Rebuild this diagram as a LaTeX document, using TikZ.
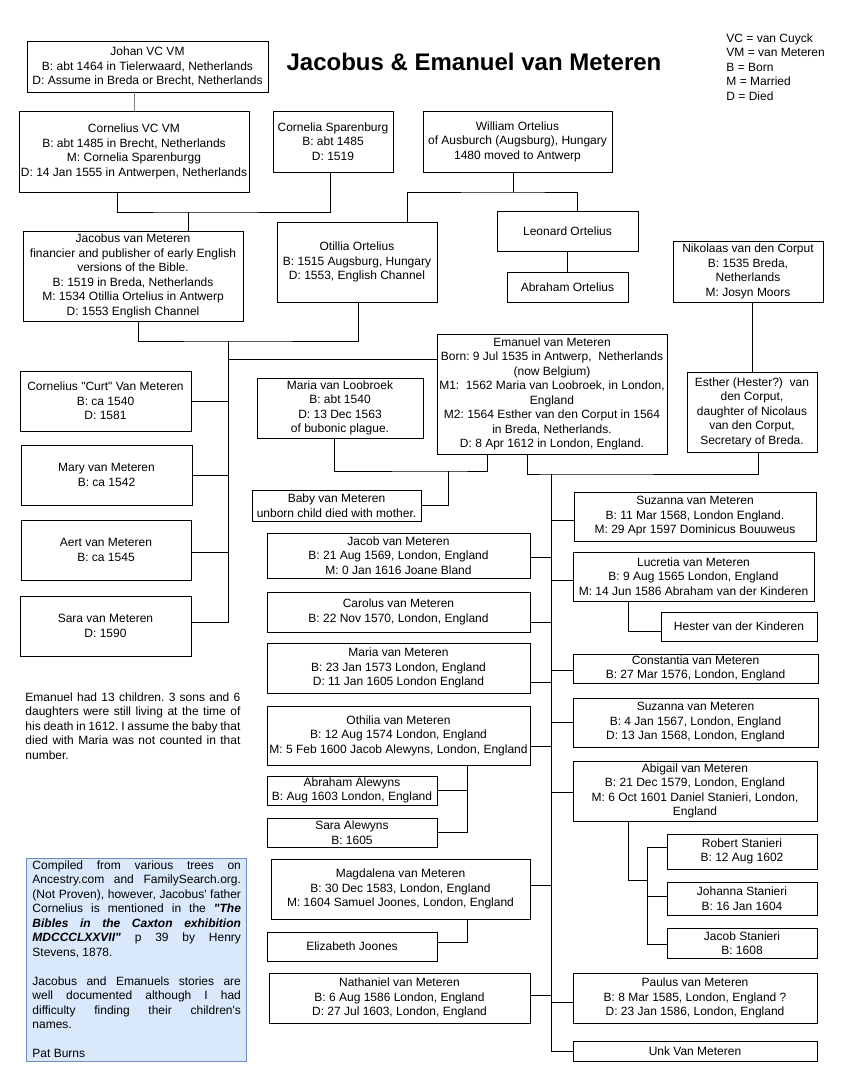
\documentclass[tikz,border=0pt]{standalone}
\usepackage{fontspec}
\newfontfamily\treefont{Liberation Sans}
\usepackage{xcolor}
\usepackage{tikz}
\definecolor{notefill}{HTML}{DAE8FC}
\definecolor{noteline}{HTML}{6C8EBF}
\frenchspacing

\begin{document}
\begin{tikzpicture}[x=1pt, y=-1pt, line width=0.9pt,
        person/.style={draw, rectangle, align=center, inner sep=1pt, font=\treefont\fontsize{12}{14.5}\selectfont},
        plain/.style={inner sep=0pt, font=\treefont\fontsize{12}{14.5}\selectfont}]
        \useasboundingbox (0,0) rectangle (848,1074);
        \node[font=\treefont\fontsize{24}{28}\selectfont\bfseries, anchor=base] (title) at (474,70) {Jacobus \& Emanuel van Meteren};
        \node[plain, align=left, anchor=north west] (legend) at (726,33) {VC = van Cuyck\\VM = van Meteren\\B = Born\\M = Married\\D = Died};

        \node[person, minimum width=241pt, minimum height=51pt] (johan) at (147.5,66.5) {Johan VC VM\\B: abt 1464 in Tielerwaard, Netherlands\\D: Assume in Breda or Brecht, Netherlands};
        \node[person, minimum width=230pt, minimum height=81pt] (cornvm) at (134,151.5) {Cornelius VC VM\\B: abt 1485 in Brecht, Netherlands\\M: Cornelia Sparenburgg\\D: 14 Jan 1555 in Antwerpen, Netherlands};
        \node[person, minimum width=120pt, minimum height=61pt] (cornsp) at (333,141.5) {Cornelia Sparenburg\\B: abt 1485\\D: 1519};
        \node[person, minimum width=189pt, minimum height=61pt] (william) at (517.5,141.5) {William Ortelius\\of Ausburch (Augsburg), Hungary\\1480 moved to Antwerp};
        \node[person, minimum width=141pt, minimum height=40pt] (leonard) at (567.5,231) {Leonard Ortelius};
        \node[person, minimum width=121pt, minimum height=30pt] (abrahamo) at (567.5,287) {Abraham Ortelius};
        \node[person, minimum width=150pt, minimum height=61pt] (nikolaas) at (748,271.5) {Nikolaas van den Corput\\B: 1535 Breda,\\Netherlands\\M: Josyn Moors};
        \node[person, minimum width=220pt, minimum height=90pt] (jacobus) at (133,276) {Jacobus van Meteren\\financier and publisher of early English\\versions of the Bible.\\B: 1519 in Breda, Netherlands\\M: 1534 Otillia Ortelius in Antwerp\\D: 1553 English Channel};
        \node[person, minimum width=160pt, minimum height=80pt] (otillia) at (357,262) {Otillia Ortelius\\B: 1515 Augsburg, Hungary\\D: 1553, English Channel};
        \node[person, minimum width=230pt, minimum height=120pt] (emanuel) at (552,394) {Emanuel van Meteren\\Born: 9 Jul 1535 in Antwerp,\ \ Netherlands\\(now Belgium)\\M1:\ \ 1562 Maria van Loobroek, in London,\\England\\M2: 1564 Esther van den Corput in 1564\\in Breda, Netherlands.\\D: 8 Apr 1612 in London, England.};
        \node[person, minimum width=130pt, minimum height=80pt] (esther) at (752,412) {Esther (Hester?)\ \ van\\den Corput,\\daughter of Nicolaus\\van den Corput,\\Secretary of Breda.};
        \node[person, minimum width=166pt, minimum height=60pt] (marial) at (340,408) {Maria van Loobroek\\B: abt 1540\\D: 13 Dec 1563\\of bubonic plague.};
        \node[person, minimum width=169pt, minimum height=31pt] (baby) at (336.5,505.5) {Baby van Meteren\\unborn child died with mother.};

        \node[person, minimum width=171pt, minimum height=60pt] (curt) at (105.5,401) {Cornelius "Curt" Van Meteren\\B: ca 1540\\D: 1581};
        \node[person, minimum width=171pt, minimum height=60pt] (mary) at (106.5,475) {Mary van Meteren\\B: ca 1542};
        \node[person, minimum width=170pt, minimum height=60pt] (aert) at (106,550) {Aert van Meteren\\B: ca 1545};
        \node[person, minimum width=171pt, minimum height=60pt] (sara) at (105.5,626) {Sara van Meteren\\D: 1590};

        \node[person, minimum width=263pt, minimum height=45pt] (jacob) at (398.5,555.5) {Jacob van Meteren\\B: 21 Aug 1569, London, England\\M: 0 Jan 1616 Joane Bland};
        \node[person, minimum width=263pt, minimum height=40pt] (carolus) at (398.5,612) {Carolus van Meteren\\B: 22 Nov 1570, London, England};
        \node[person, minimum width=263pt, minimum height=50pt] (mariam) at (398.5,668) {Maria van Meteren\\B: 23 Jan 1573 London, England\\D: 11 Jan 1605 London England};
        \node[person, minimum width=263pt, minimum height=59pt] (othilia) at (398.5,735.5) {Othilia van Meteren\\B: 12 Aug 1574 London, England\\M: 5 Feb 1600 Jacob Alewyns, London, England};
        \node[person, minimum width=170pt, minimum height=29pt] (abrahama) at (352,790.5) {Abraham Alewyns\\B: Aug 1603 London, England};
        \node[person, minimum width=170pt, minimum height=29pt] (saraa) at (352,832.5) {Sara Alewyns\\B: 1605};
        \node[person, minimum width=259pt, minimum height=60pt] (magdalena) at (400.5,889) {Magdalena van Meteren\\B: 30 Dec 1583, London, England\\M: 1604 Samuel Joones, London, England};
        \node[person, minimum width=170pt, minimum height=29pt] (elizabeth) at (352,946.5) {Elizabeth Joones};
        \node[person, minimum width=261pt, minimum height=50pt] (nathaniel) at (399.5,998) {Nathaniel van Meteren\\B: 6 Aug 1586 London, England\\D: 27 Jul 1603, London, England};

        \node[person, minimum width=242pt, minimum height=49pt] (suzannaa) at (695,516.5) {Suzanna van Meteren\\B: 11 Mar 1568, London England.\\M: 29 Apr 1597 Dominicus Bouuweus};
        \node[person, minimum width=241pt, minimum height=49pt] (lucretia) at (693.5,576.5) {Lucretia van Meteren\\B: 9 Aug 1565 London, England\\M: 14 Jun 1586 Abraham van der Kinderen};
        \node[person, minimum width=156pt, minimum height=29pt] (hester) at (739,626.5) {Hester van der Kinderen};
        \node[person, minimum width=245pt, minimum height=29pt] (constantia) at (695.5,668.5) {Constantia van Meteren\\B: 27 Mar 1576, London, England};
        \node[person, minimum width=245pt, minimum height=49pt] (suzannab) at (695.5,722.5) {Suzanna van Meteren\\B: 4 Jan 1567, London, England\\D: 13 Jan 1568, London, England};
        \node[person, minimum width=244pt, minimum height=60pt] (abigail) at (695,791) {Abigail van Meteren\\B: 21 Dec 1579, London, England\\M: 6 Oct 1601 Daniel Stanieri, London,\\England};
        \node[person, minimum width=150pt, minimum height=35pt] (robert) at (742,851.5) {Robert Stanieri\\B: 12 Aug 1602};
        \node[person, minimum width=150pt, minimum height=33pt] (johanna) at (742,898.5) {Johanna Stanieri\\B: 16 Jan 1604};
        \node[person, minimum width=150pt, minimum height=30pt] (jacobs) at (742,943) {Jacob Stanieri\\B: 1608};
        \node[person, minimum width=244pt, minimum height=50pt] (paulus) at (695,998) {Paulus van Meteren\\B: 8 Mar 1585, London, England ?\\D: 23 Jan 1586, London, England};
        \node[person, minimum width=244pt, minimum height=20pt] (unk) at (695,1051) {Unk Van Meteren};

        \node[plain, text width=215pt, align=justify, anchor=north west] (count) at (25,692) {Emanuel had 13 children. 3 sons and 6\linebreak daughters were still living at the time of\linebreak his death in 1612. I assume the baby that\linebreak died with Maria was not counted in that\linebreak number.};
        \node[draw=noteline, fill=notefill, minimum width=220pt, minimum height=203pt, inner sep=0pt] (notes) at (136,959.5) {};
        \node[plain, text width=208.5pt, align=justify, anchor=north west] (notestext) at (32,860) {Compiled from various trees on\linebreak Ancestry.com and FamilySearch.org.\linebreak (Not Proven), however, Jacobus' father\linebreak Cornelius is mentioned in the \textbf{\textit{"The\linebreak Bibles in the Caxton exhibition\linebreak MDCCCLXXVII"}} p 39 by Henry\linebreak Stevens, 1878.\par\mbox{}\par Jacobus and Emanuels stories are\linebreak well documented although I had\linebreak difficulty finding their children's\linebreak names.\par\mbox{}\par Pat Burns};

        \draw[gray] (cornvm.north) -- (cornvm.north |- johan.south);
        \coordinate (cornmar) at (188,212);
        \draw ([xshift=-17pt]cornvm.south) |- (cornmar) -| ([xshift=-3pt]cornsp.south);
        \draw (cornmar) -- (cornmar |- jacobus.north);
        \coordinate (willkids) at (513,192);
        \draw ([xshift=-4.5pt]william.south) -- (willkids);
        \draw ([xshift=50pt]otillia.north) |- (willkids) -| ([xshift=9.5pt]leonard.north);
        \draw (leonard.south) -- (abrahamo.north);
        \draw (esther.north) -- (esther.north |- nikolaas.south);

        \coordinate (jacmar) at (228,341);
        \draw ([xshift=5pt]jacobus.south) |- (jacmar) -| ([xshift=1pt]otillia.south);
        \draw (jacmar) |- ([yshift=4pt]sara.east);
        \draw (jacmar) |- ([yshift=-26pt]emanuel.north west);
        \foreach \kid/\dy in {curt/0, mary/0, aert/-2}
            \draw ([yshift=\dy pt]\kid.east) -- ([yshift=\dy pt]\kid.east -| jacmar);

        \coordinate (marmar) at (448,471);
        \draw ([xshift=-6pt]marial.south) |- (marmar) -| ([xshift=-65pt]emanuel.south);
        \draw (marmar) |- (baby.east);
        \coordinate (estmar) at (551,474);
        \draw ([xshift=-25pt]emanuel.south) |- (estmar) -| ([xshift=6pt]esther.south);
        \draw (estmar) |- (unk.west);
        \foreach \kid/\dy in {jacob/-1.5, carolus/-10, mariam/-14, othilia/-10.5, magdalena/4, nathaniel/3}
            \draw ([yshift=\dy pt]\kid.east) -- ([yshift=\dy pt]\kid.east -| estmar);
        \foreach \kid/\dy in {suzannaa/-3.5, lucretia/-3.5, constantia/-1.5, suzannab/0, abigail/-1, paulus/-4}
            \draw ([yshift=\dy pt]\kid.west) -- ([yshift=\dy pt]\kid.west -| estmar);

        \coordinate (othkids) at ([xshift=68.5pt]othilia.south);
        \draw (othkids) |- (saraa.east);
        \draw (abrahama.east) -- (abrahama.east -| othkids);
        \coordinate (magkids) at ([xshift=66.5pt]magdalena.south);
        \draw (magkids) |- ([yshift=4.5pt]elizabeth.east);
        \draw ([xshift=-65.5pt]lucretia.south) |- ([yshift=-4.5pt]hester.west);
        \coordinate (abikids) at (647,880);
        \draw ([xshift=-67pt]abigail.south) |- (abikids);
        \foreach \kid/\dy in {robert/4.5, johanna/2.5, jacobs/-1}
            \draw ([yshift=\dy pt]\kid.west) -| (abikids);
    \end{tikzpicture}
\end{document}
